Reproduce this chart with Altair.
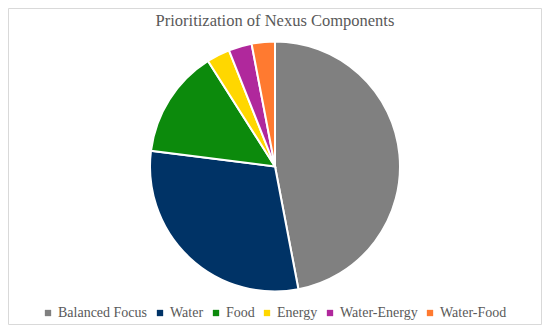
import altair as alt
import pandas as pd

categories = ["Balanced Focus", "Water", "Food", "Energy", "Water-Energy", "Water-Food"]
values = [47, 30, 14, 3, 3, 3]
colors = ["#808080", "#003366", "#0C8A0C", "#FFD700", "#B0289C", "#FF7A30"]
title_text = "Prioritization of Nexus Components"

df = pd.DataFrame({"category": categories, "value": values, "idx": list(range(len(categories)))})

W, H = 534, 317
SERIF = "Liberation Serif"

pie = alt.Chart(df).mark_arc(stroke="white", strokeWidth=2, outerRadius=125).encode(
    theta=alt.Theta("value:Q", stack=True),
    order=alt.Order("idx:Q"),
    color=alt.Color(
        "category:N",
        scale=alt.Scale(domain=categories, range=colors),
        sort=categories,
        legend=alt.Legend(
            title=None,
            orient="none",
            direction="horizontal",
            legendX=33,
            legendY=298,
            symbolType="square",
            symbolSize=40,
            symbolStrokeWidth=0,
            labelFont=SERIF,
            labelFontSize=14,
            labelColor="#595959",
            columnPadding=5,
            labelOffset=3,
        ),
    ),
)

title = alt.Chart(pd.DataFrame({"t": [title_text]})).mark_text(
    font=SERIF, fontSize=16.5, color="#595959", align="center", baseline="alphabetic"
).encode(text="t:N", x=alt.value(W / 2), y=alt.value(18))

frame = alt.Chart(pd.DataFrame({"t": [0]})).mark_rect(
    fill=None, stroke="#D9D9D9", strokeWidth=1
).encode(x=alt.value(0.5), x2=alt.value(W - 0.5), y=alt.value(0.5), y2=alt.value(H - 0.5))

chart = alt.layer(frame, pie, title).properties(
    width=W,
    height=H,
    padding=0,
    autosize=alt.AutoSizeParams(type="none"),
).configure_view(stroke=None).configure_legend(labelFont=SERIF, labelFontSize=14, labelColor="#595959")

chart.save("out.html", embed_options={"renderer": "svg", "actions": False})
